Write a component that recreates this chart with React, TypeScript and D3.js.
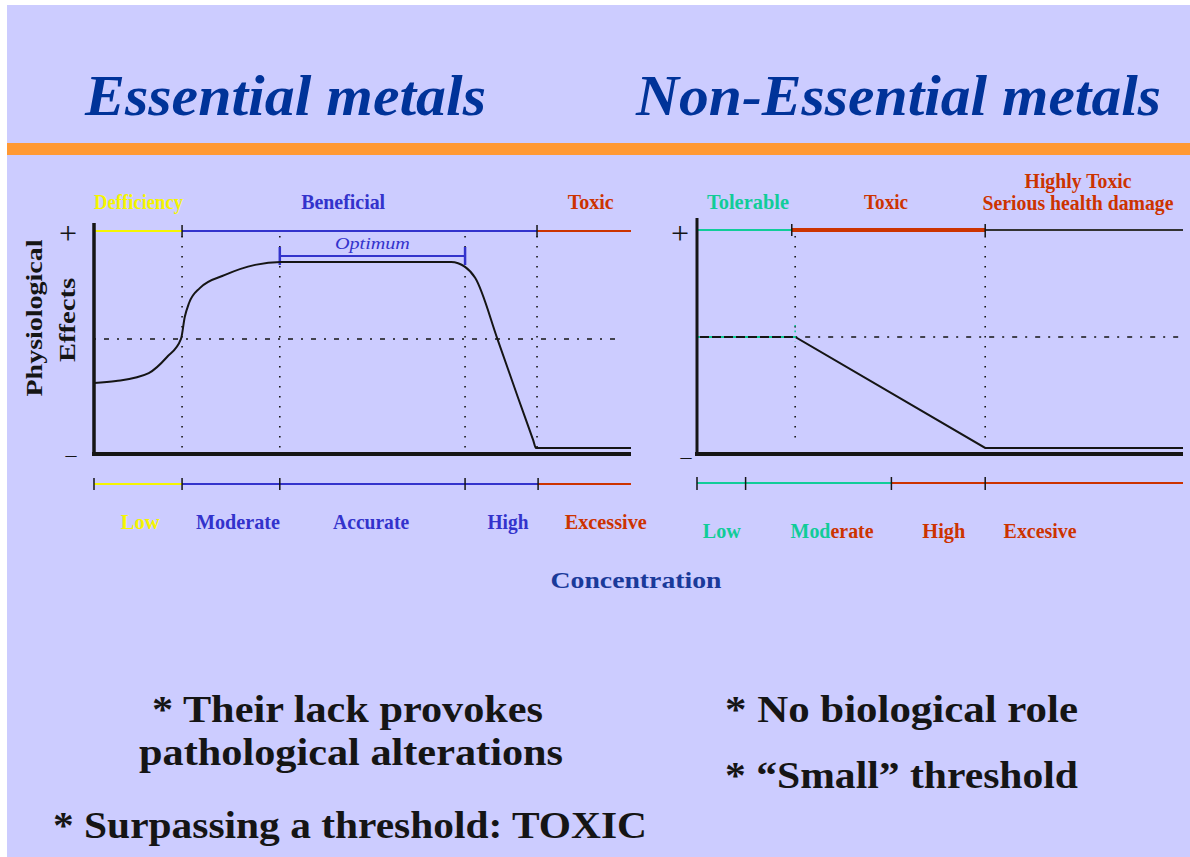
import React, { useEffect, useRef } from "react";
import * as d3 from "d3";

const W = 1190, H = 857;

// Essential metals: concentration (0-100) vs physiological effect (0-100)
const essentialConc = [0, 4.1, 10.2, 13.6, 16.2, 16.9, 17.7, 19.7, 24.4, 30.0, 34.8, 66.5, 69.1, 71.0, 75.2, 79.0, 81.8, 82.3, 100];
const essentialEffect = [31.8, 32.7, 36.3, 43.5, 51.6, 61.4, 67.7, 74.4, 80.3, 84.8, 86.1, 86.1, 83.9, 78.9, 51.1, 25.0, 6.1, 2.7, 2.7];
const essentialTopLabels = ["Defficiency", "Beneficial", "Toxic"];
const essentialTopEdges = [0, 16.4, 82.5, 100];
const essentialGrid = [16.4, 34.6, 69.1, 82.5];
const essentialOptimum = [34.6, 69.1];
const essentialMid = 51.6;
const essentialBottomLabels = ["Low", "Moderate", "Accurate", "High", "Excessive"];
const essentialBottomTicks = [0, 16.4, 34.6, 69.1, 82.7];
const essentialBottomBands = [0, 16.4, 82.7, 100];

// Non-essential metals
const nonEssConc = [0, 20.2, 59.3, 100];
const nonEssEffect = [52.5, 52.5, 2.7, 2.7];
const nonEssTopLabels = [["Tolerable"], ["Toxic"], ["Highly Toxic", "Serious health damage"]];
const nonEssTopEdges = [0, 19.5, 59.3, 100];
const nonEssGrid = [20.2, 59.3];
const nonEssMid = 52.5;
const nonEssBottomLabels = ["Low", "Moderate", "High", "Excesive"];
const nonEssBottomTicks = [0, 10, 40, 59.3];
const nonEssBottomBands = [0, 40, 100];

const notesLeft = ["* Their lack provokes", "pathological alterations", "* Surpassing a threshold: TOXIC"];
const notesRight = ["* No biological role", "* \u201CSmall\u201D threshold"];

// layout / style (label centres in concentration units, widths in px)
const YELLOW = "#f5f500", BLUE = "#3333cc", RED = "#cc3300", TEAL = "#11cc99", INK = "#151515";
const essTopColors = [YELLOW, BLUE, RED];
const essTopLabelAt = [8.3, 46.4, 92.5];
const essTopLabelW = [89, 84, 46];
const essBottomColors = [YELLOW, BLUE, RED];
const essBottomLabelAt = [8.6, 26.8, 51.6, 77.1, 95.3];
const essBottomLabelW = [39, 84, 76, 41, 82];
const nonTopColors = [TEAL, RED, "#333"];
const nonTopWidths = [2, 4, 2];
const nonTopLabelAt = [10.5, 38.9, 78.4];
const nonTopLabelW = [[82], [44], [107, 191]];
const nonBottomColors = [TEAL, RED];
const nonBottomLabelAt = [5.1, 27.8, 50.8, 70.6];
const nonBottomLabelW = [38, 83, 43, 73];

const SERIF = "'Liberation Serif', 'DejaVu Serif', serif";

function App() {
    const ref = useRef<SVGSVGElement>(null);

    useEffect(() => {
        const svg = d3.select(ref.current);
        svg.selectAll("*").remove();

        const y = d3.scaleLinear().domain([0, 100]).range([454, 231]);
        const xL = d3.scaleLinear().domain([0, 100]).range([94, 631]);
        const xR = d3.scaleLinear().domain([0, 100]).range([697, 1183]);

        const text = (x: number, yy: number, s: string, size: number, fill: string, w?: number) => {
            const t = svg.append("text")
                .attr("x", x).attr("y", yy)
                .attr("text-anchor", "middle")
                .attr("font-family", SERIF)
                .attr("font-weight", "bold")
                .attr("font-size", size)
                .attr("fill", fill)
                .text(s);
            if (w) t.attr("textLength", w).attr("lengthAdjust", "spacingAndGlyphs");
            return t;
        };
        const line = (x1: number, y1: number, x2: number, y2: number, stroke: string, sw: number, dash?: string) => {
            const l = svg.append("line")
                .attr("x1", x1).attr("y1", y1).attr("x2", x2).attr("y2", y2)
                .attr("stroke", stroke).attr("stroke-width", sw);
            if (dash) l.attr("stroke-dasharray", dash);
            return l;
        };

        // background
        svg.append("rect").attr("width", W).attr("height", H).attr("fill", "#fff");
        svg.append("rect").attr("x", 7).attr("y", 5).attr("width", W - 7).attr("height", H - 5).attr("fill", "#ccccff");
        svg.append("rect").attr("x", 7).attr("y", 143).attr("width", W - 7).attr("height", 12).attr("fill", "#ff9933");

        // titles
        text(285.5, 115, "Essential metals", 58, "#003399", 401).attr("font-style", "italic");
        text(898.5, 115, "Non-Essential metals", 58, "#003399", 525).attr("font-style", "italic");

        // ---------- left panel ----------
        essentialGrid.forEach(g => line(xL(g), 236, xL(g), 448, INK, 1.6, "1.6,8.4"));
        line(xL(0), y(essentialMid), 618, y(essentialMid), INK, 1.6, "2,8,5,8");

        essentialTopLabels.forEach((lab, i) => {
            line(xL(essentialTopEdges[i]), 231, xL(essentialTopEdges[i + 1]), 231, essTopColors[i], 2);
            text(xL(essTopLabelAt[i]), 209, lab, 21, essTopColors[i], essTopLabelW[i]);
        });
        essentialTopEdges.slice(1, -1).forEach(e => line(xL(e), 225, xL(e), 237, INK, 1.5));

        // optimum bracket
        const [o0, o1] = essentialOptimum;
        line(xL(o0), 256, xL(o1), 256, BLUE, 2);
        line(xL(o0), 247, xL(o0), 265, BLUE, 2.5);
        line(xL(o1), 247, xL(o1), 265, BLUE, 2.5);
        text(xL((o0 + o1) / 2), 249, "Optimum", 16, BLUE, 75)
            .attr("font-weight", "normal").attr("font-style", "italic");

        const essPts = essentialConc.map((c, i) => [c, essentialEffect[i]] as [number, number]);
        svg.append("path")
            .attr("d", d3.line<[number, number]>().x(d => xL(d[0])).y(d => y(d[1])).curve(d3.curveMonotoneX)(essPts))
            .attr("fill", "none").attr("stroke", INK).attr("stroke-width", 2);

        line(94, 223, 94, 456, INK, 3.5);
        line(92, 454, 631, 454, INK, 4);
        text(68, 244, "+", 32, INK).attr("font-weight", "normal");
        text(71, 462, "\u2013", 22, INK).attr("font-weight", "normal");

        // y title
        svg.append("g").attr("transform", "translate(42,318) rotate(-90)")
            .append("text").attr("text-anchor", "middle")
            .attr("font-family", SERIF).attr("font-weight", "bold").attr("font-size", 23)
            .attr("fill", INK).attr("textLength", 157).attr("lengthAdjust", "spacingAndGlyphs")
            .text("Physiological");
        svg.append("g").attr("transform", "translate(75,320) rotate(-90)")
            .append("text").attr("text-anchor", "middle")
            .attr("font-family", SERIF).attr("font-weight", "bold").attr("font-size", 23)
            .attr("fill", INK).attr("textLength", 84).attr("lengthAdjust", "spacingAndGlyphs")
            .text("Effects");

        // concentration axis (left)
        essBottomColors.forEach((c, i) =>
            line(xL(essentialBottomBands[i]), 484, xL(essentialBottomBands[i + 1]), 484, c, 2));
        essentialBottomTicks.forEach(t => line(xL(t), 478, xL(t), 490, INK, 1.5));
        essentialBottomLabels.forEach((lab, i) => {
            const c = essBottomLabelAt[i] < 16.4 ? YELLOW : essBottomLabelAt[i] > 82.7 ? RED : BLUE;
            text(xL(essBottomLabelAt[i]), 529, lab, 21, c, essBottomLabelW[i]);
        });

        text(636, 588, "Concentration", 24, "#1a3a9a", 171);

        // ---------- right panel ----------
        nonEssGrid.forEach(g => line(xR(g), 236, xR(g), 444, INK, 1.6, "1.6,8.4"));
        line(xR(nonEssGrid[0]), y(nonEssMid), 1182, y(nonEssMid), INK, 1.6, "2,8,5,8");

        nonEssTopLabels.forEach((labs, i) => {
            line(xR(nonEssTopEdges[i]), 230, xR(nonEssTopEdges[i + 1]), 230, nonTopColors[i], nonTopWidths[i]);
            const c = i === 0 ? TEAL : RED;
            labs.forEach((lab, j) => {
                const yy = labs.length > 1 ? 188 + j * 22 : 209;
                text(xR(nonTopLabelAt[i]), yy, lab, 20, c, nonTopLabelW[i][j]);
            });
        });
        nonEssTopEdges.slice(1, -1).forEach(e => line(xR(e), 224, xR(e), 236, INK, 1.5));

        const nonPts = nonEssConc.map((c, i) => [c, nonEssEffect[i]] as [number, number]);
        svg.append("path")
            .attr("d", d3.line<[number, number]>().x(d => xR(d[0])).y(d => y(d[1]))(nonPts))
            .attr("fill", "none").attr("stroke", INK).attr("stroke-width", 2);
        // teal dashes on the tolerable plateau
        line(xR(0), y(nonEssMid), xR(nonEssGrid[0]), y(nonEssMid), TEAL, 2, "3,9");
        line(xR(nonEssGrid[0]), y(nonEssMid) - 12, xR(nonEssGrid[0]), y(nonEssMid) + 5, TEAL, 1.6, "1.6,4");

        line(697, 218, 697, 456, INK, 3);
        line(695, 454, 1183, 454, INK, 4);
        text(680, 244, "+", 32, INK).attr("font-weight", "normal");
        text(686, 464, "\u2013", 22, INK).attr("font-weight", "normal");

        nonBottomColors.forEach((c, i) =>
            line(xR(nonEssBottomBands[i]), 483, xR(nonEssBottomBands[i + 1]), 483, c, 2));
        nonEssBottomTicks.forEach(t => line(xR(t), 477, xR(t), 490, INK, 1.5));
        nonEssBottomLabels.forEach((lab, i) => {
            const t = text(xR(nonBottomLabelAt[i]), 538, "", 20, RED, nonBottomLabelW[i]);
            if (lab === "Moderate") {
                t.append("tspan").attr("fill", TEAL).text("Mod");
                t.append("tspan").attr("fill", RED).text("erate");
            } else {
                t.attr("fill", i === 0 ? TEAL : RED).text(lab);
            }
        });

        // ---------- notes ----------
        const noteW = [391, 424, 594];
        const noteX = [347.5, 351, 350];
        const noteY = [722, 765, 838];
        notesLeft.forEach((n, i) => text(noteX[i], noteY[i], n, 38, INK, noteW[i]));
        const noteRY = [722, 788];
        notesRight.forEach((n, i) => text(901.5, noteRY[i], n, 38, INK, 353));
    }, []);

    return (
        <svg ref={ref} width={W} height={H}
            style={{ position: "absolute", left: 0, top: 0, display: "block" }} />
    );
}

export default App;
